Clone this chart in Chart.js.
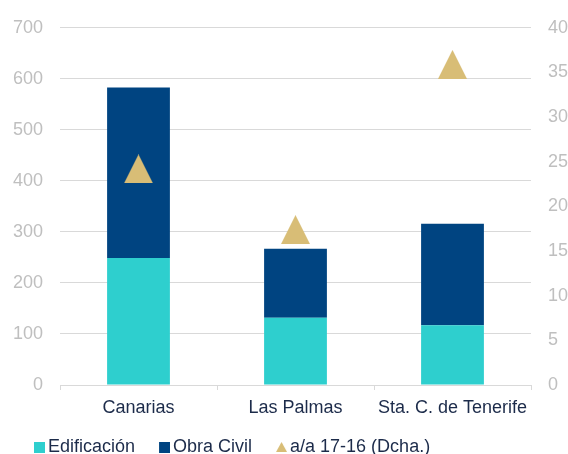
<!DOCTYPE html>
<html>
<head>
<meta charset="utf-8">
<script src="https://cdn.jsdelivr.net/npm/chart.js@4"></script>
<style>
  html, body { margin: 0; padding: 0; background: #fff; }
  #wrap { width: 568px; height: 454px; }
</style>
</head>
<body>
<div id="wrap"><canvas id="licitacion-chart"></canvas></div>
<script>
// Licitación por provincia (millones €) y variación a/a (eje dcho.)
var categorias = ['Canarias', 'Las Palmas', 'Sta. C. de Tenerife'];
var edificacion = [249, 132, 117];
var obraCivil = [334, 135, 199];
var variacion = [24.2, 17.4, 35.9];
var ticksIzq = [0, 100, 200, 300, 400, 500, 600, 700];
var ticksDcha = [0, 5, 10, 15, 20, 25, 30, 35, 40];

var COLOR_EDIF = '#2ECFCE';
var COLOR_OBRA = '#004481';
var COLOR_VAR = '#D8BD76';
var COLOR_TEXTO = '#1C2B4A';
var COLOR_TICK = '#BFBFBF';
var COLOR_GRID = '#D9D9D9';

// Marcadores dibujados a mano: el triángulo queda centrado en su caja.
// 'hueco' deja margen transparente a la izquierda (iconos de la leyenda).
function triangulo(w, h, color, hueco) {
    hueco = hueco || 0;
    var c = document.createElement('canvas');
    c.width = w + hueco;
    c.height = h;
    var g = c.getContext('2d');
    g.fillStyle = color;
    g.beginPath();
    g.moveTo(hueco, h);
    g.lineTo(hueco + w / 2, 0);
    g.lineTo(hueco + w, h);
    g.closePath();
    g.fill();
    return c;
}

function cuadrado(s, color, hueco) {
    var c = document.createElement('canvas');
    c.width = s + hueco;
    c.height = s;
    var g = c.getContext('2d');
    g.fillStyle = color;
    g.fillRect(hueco, 0, s, s);
    return c;
}

var marcador = triangulo(29, 29, COLOR_VAR, 0);
var iconosLeyenda = [
    cuadrado(11, COLOR_EDIF, 6),
    cuadrado(11, COLOR_OBRA, 6),
    triangulo(11, 10, COLOR_VAR, 6)
];

var fuente = { family: 'Arial, "Liberation Sans", sans-serif', size: 18 };

new Chart(document.getElementById('licitacion-chart').getContext('2d'), {
    type: 'bar',
    data: {
        labels: categorias,
        datasets: [{
            type: 'line',
            label: 'a/a 17-16 (Dcha.)',
            data: variacion,
            yAxisID: 'y1',
            showLine: false,
            pointStyle: marcador,
            pointRadius: 15,
            pointHoverRadius: 15,
            order: 0
        }, {
            label: 'Edificación',
            data: edificacion,
            backgroundColor: COLOR_EDIF,
            yAxisID: 'y',
            barPercentage: 0.4,
            categoryPercentage: 1,
            order: 1
        }, {
            label: 'Obra Civil',
            data: obraCivil,
            backgroundColor: COLOR_OBRA,
            yAxisID: 'y',
            barPercentage: 0.4,
            categoryPercentage: 1,
            order: 1
        }]
    },
    options: {
        responsive: true,
        maintainAspectRatio: false,
        animation: false,
        layout: {
            padding: { top: 25, left: 10, right: 0, bottom: 0 }
        },
        plugins: {
            tooltip: { enabled: false },
            legend: {
                position: 'bottom',
                align: 'start',
                maxHeight: 40,
                labels: {
                    font: fuente,
                    color: COLOR_TEXTO,
                    usePointStyle: true,
                    pointStyleWidth: 5,
                    padding: 24,
                    generateLabels: function(chart) {
                        // barras primero, luego el marcador
                        var orden = [1, 2, 0];
                        return orden.map(function(idx, i) {
                            return {
                                text: chart.data.datasets[idx].label,
                                pointStyle: iconosLeyenda[i],
                                fillStyle: 'transparent',
                                strokeStyle: 'transparent',
                                lineWidth: 0,
                                fontColor: COLOR_TEXTO,
                                datasetIndex: idx
                            };
                        });
                    }
                }
            }
        },
        scales: {
            x: {
                stacked: true,
                grid: {
                    offset: true,
                    drawOnChartArea: false,
                    drawTicks: true,
                    tickLength: 5,
                    color: COLOR_GRID
                },
                border: { color: COLOR_GRID },
                ticks: {
                    font: fuente,
                    color: COLOR_TEXTO,
                    padding: 7,
                    maxRotation: 0
                },
                afterFit: function(scale) { scale.height = 29; }
            },
            y: {
                stacked: true,
                position: 'left',
                min: 0,
                max: 700,
                afterBuildTicks: function(scale) {
                    scale.ticks = ticksIzq.map(function(v) { return { value: v }; });
                },
                grid: { color: COLOR_GRID, drawTicks: false },
                border: { display: false },
                ticks: { font: fuente, color: COLOR_TICK, padding: 17 },
                afterFit: function(scale) { scale.width = 50; }
            },
            y1: {
                position: 'right',
                min: 0,
                max: 40,
                afterBuildTicks: function(scale) {
                    scale.ticks = ticksDcha.map(function(v) { return { value: v }; });
                },
                grid: { display: false, drawTicks: false },
                border: { display: false },
                ticks: { font: fuente, color: COLOR_TICK, padding: 17 },
                afterFit: function(scale) { scale.width = 37; }
            }
        }
    }
});
</script>
</body>
</html>
